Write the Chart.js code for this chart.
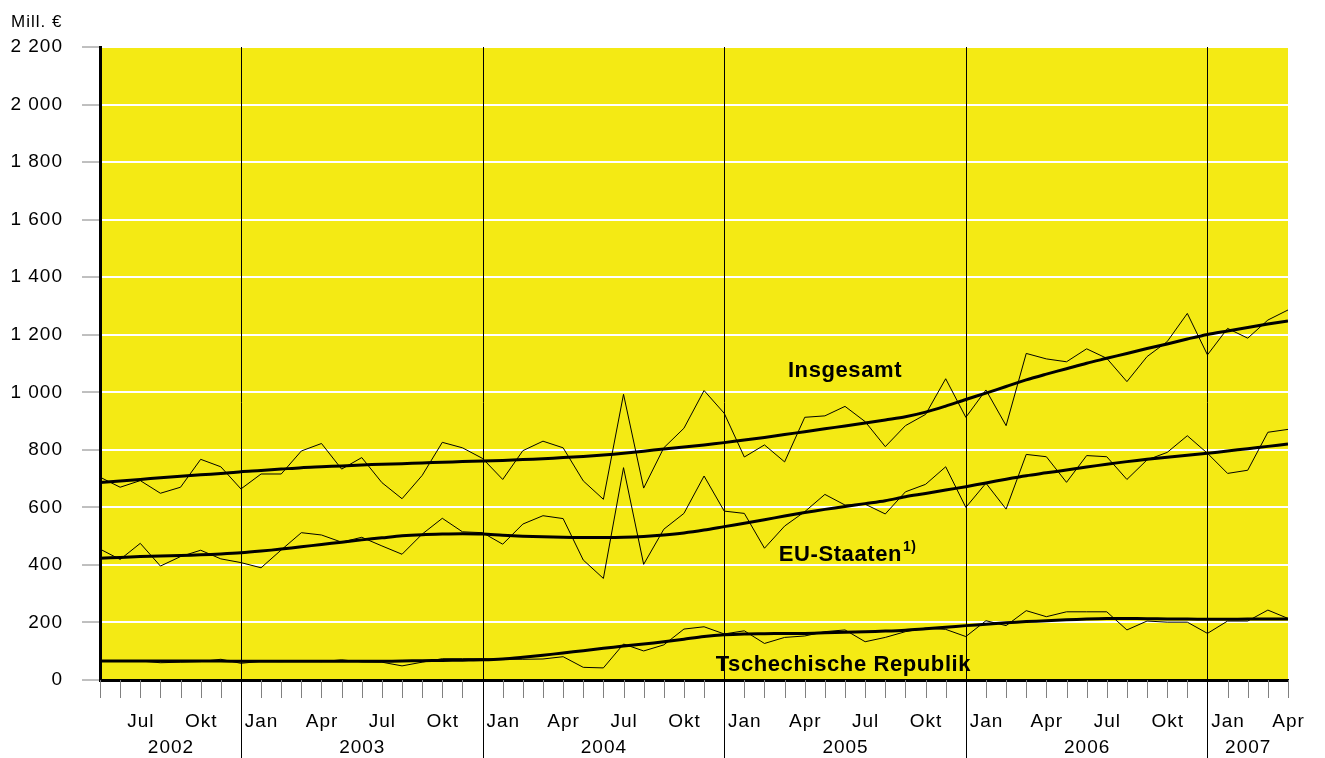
<!DOCTYPE html>
<html><head><meta charset="utf-8">
<script src="https://cdn.jsdelivr.net/npm/chart.js@4"></script>
<style>html,body{margin:0;padding:0;background:#fff;}#wrap{width:1325px;height:758px;}</style>
</head><body><div id="wrap"><canvas id="c" width="1325" height="758"></canvas></div>
<script>
// Months May 2002 .. Apr 2007
const months = ["Mai","Jun","Jul","Aug","Sep","Okt","Nov","Dez",
 "Jan","Feb","Mär","Apr","Mai","Jun","Jul","Aug","Sep","Okt","Nov","Dez",
 "Jan","Feb","Mär","Apr","Mai","Jun","Jul","Aug","Sep","Okt","Nov","Dez",
 "Jan","Feb","Mär","Apr","Mai","Jun","Jul","Aug","Sep","Okt","Nov","Dez",
 "Jan","Feb","Mär","Apr","Mai","Jun","Jul","Aug","Sep","Okt","Nov","Dez",
 "Jan","Feb","Mär","Apr"];
const shownMonthLabels = ["Jan","Apr","Jul","Okt"];
const years = ["2002","2003","2004","2005","2006","2007"];
const yTicks = [0,200,400,600,800,1000,1200,1400,1600,1800,2000,2200];

const insgesamt = [705,670,693,649,670,767,741,664,716,716,796,822,733,773,686,630,711,826,807,770,
 697,797,830,807,692,628,993,667,807,875,1006,927,775,817,758,913,918,951,898,811,
 884,923,1047,913,1008,884,1135,1116,1106,1151,1118,1037,1124,1176,1274,1130,1222,1188,1251,1286];
const insgesamtTrend = [686,692,697,703,708,713,718,724,728,733,738,741,744,747,750,752,754,757,759,761,
 763,766,769,773,777,782,788,795,803,810,817,825,834,843,853,863,873,883,893,904,
 915,931,952,975,997,1020,1043,1063,1082,1101,1118,1135,1152,1168,1185,1201,1213,1225,1237,1248];
const euStaaten = [455,419,475,396,429,451,421,408,390,452,512,504,479,496,466,437,507,562,515,512,
 472,542,571,561,417,353,738,402,524,579,709,587,579,458,535,585,645,608,611,577,
 654,680,741,600,684,594,784,776,687,780,776,697,765,791,849,788,718,729,861,871];
const euTrend = [423,426,429,431,433,435,438,442,448,455,463,471,479,487,494,501,505,507,508,507,
 503,500,498,496,495,495,496,499,504,511,521,533,545,557,570,582,593,603,613,623,
 637,648,660,672,685,698,710,720,730,740,750,759,767,774,781,788,796,804,812,820];
const tschechien = [66,66,66,60,62,64,72,58,65,64,66,64,70,63,62,49,62,74,74,74,
 72,72,73,81,44,42,125,101,122,177,185,160,171,127,148,153,168,174,133,148,
 168,180,176,151,206,189,241,220,237,237,237,174,205,201,201,162,205,205,243,214];
const tschechienTrend = [66,66,66,66,66,66,66,65,65,65,65,65,65,65,65,66,67,68,69,70,
 73,79,86,94,102,110,118,125,133,142,151,157,160,161,162,162,164,166,168,170,
 173,178,183,189,194,199,203,206,209,212,214,214,213,212,212,211,211,212,212,212];

const FONT = '"Liberation Sans", Arial, sans-serif';
const toXY = arr => arr.map((v,i)=>({x:i,y:v}));

const decor = {
  id:'decor',
  beforeDraw(chart){
    const {ctx, chartArea:a} = chart;
    ctx.letterSpacing = '1px';
    ctx.save();
    ctx.fillStyle = '#F4EA14';
    ctx.fillRect(a.left, a.top, a.right-a.left, a.bottom-a.top);
    ctx.restore();
  },
  afterDatasetsDraw(chart){
    const {ctx, chartArea:a, scales:{x,y}} = chart;
    ctx.save();
    // month tick marks
    ctx.strokeStyle = '#808080'; ctx.lineWidth = 1;
    months.forEach((m,i)=>{
      const px = Math.round(x.getPixelForValue(i))+0.5;
      ctx.beginPath(); ctx.moveTo(px, a.bottom); ctx.lineTo(px, a.bottom+18); ctx.stroke();
    });
    // year separators (at December)
    const sep = [];
    months.forEach((m,i)=>{ if(m==='Dez') sep.push(i); });
    ctx.strokeStyle = '#000'; ctx.lineWidth = 1;
    sep.forEach(i=>{
      const px = Math.round(x.getPixelForValue(i))+0.5;
      ctx.beginPath(); ctx.moveTo(px, a.top); ctx.lineTo(px, 758); ctx.stroke();
    });
    // month labels
    ctx.fillStyle = '#000'; ctx.font = '19px '+FONT; ctx.letterSpacing = '1px';
    ctx.textAlign = 'center'; ctx.textBaseline = 'alphabetic';
    months.forEach((m,i)=>{
      if(shownMonthLabels.includes(m)) ctx.fillText(m, x.getPixelForValue(i)+0.5, 727);
    });
    // year labels
    const bounds = [x.getPixelForValue(0)].concat(sep.map(i=>x.getPixelForValue(i)), [x.getPixelForValue(months.length-1)]);
    years.forEach((yr,k)=>{
      ctx.fillText(yr, (bounds[k]+bounds[k+1])/2+0.5, 753);
    });
    // series labels
    ctx.font = 'bold 22px '+FONT; ctx.letterSpacing = '0.6px';
    ctx.fillText('Insgesamt', x.getPixelForValue(37), y.getPixelForValue(1053));
    const ex = x.getPixelForValue(36.77), ey = y.getPixelForValue(414);
    ctx.fillText('EU-Staaten', ex, ey);
    const w = ctx.measureText('EU-Staaten').width;
    ctx.font = 'bold 14px '+FONT; ctx.textAlign='left'; ctx.letterSpacing = '0.5px';
    ctx.fillText('1)', ex + w/2 + 1, ey - 10);
    ctx.font = 'bold 22px '+FONT; ctx.textAlign='center'; ctx.letterSpacing = '0.6px';
    ctx.fillText('Tschechische Republik', x.getPixelForValue(36.92), y.getPixelForValue(31));
    // unit
    ctx.font = '17px '+FONT; ctx.textAlign='left'; ctx.letterSpacing = '1px';
    ctx.fillText('Mill. €', 11, 27);
    ctx.restore();
  }
};

const thin = (d)=>({data:toXY(d), borderColor:'#000', borderWidth:1, pointRadius:0, tension:0, fill:false});
const thick = (d)=>({data:toXY(d), borderColor:'#000', borderWidth:3, pointRadius:0, tension:0.3, fill:false});

new Chart(document.getElementById('c'), {
  type:'line',
  data:{ datasets:[
    Object.assign(thin(insgesamt),{label:'Insgesamt'}),
    Object.assign(thick(insgesamtTrend),{label:'Insgesamt Trend'}),
    Object.assign(thin(euStaaten),{label:'EU-Staaten'}),
    Object.assign(thick(euTrend),{label:'EU-Staaten Trend'}),
    Object.assign(thin(tschechien),{label:'Tschechische Republik'}),
    Object.assign(thick(tschechienTrend),{label:'Tschechische Republik Trend'})
  ]},
  options:{
    responsive:false, animation:false, devicePixelRatio:1,
    layout:{padding:{top:47, right:37, left:0, bottom:0}},
    plugins:{legend:{display:false}, tooltip:{enabled:false}},
    scales:{
      x:{type:'linear', min:0, max:months.length-1,
         ticks:{display:false}, grid:{display:false},
         border:{display:true, color:'#000', width:3},
         afterFit(s){ s.height = 78; }},
      y:{min:0, max:2200,
         afterBuildTicks(s){ s.ticks = yTicks.map(v=>({value:v})); },
         ticks:{padding:19, color:'#000', font:{family:FONT, size:19},
           callback:v=> v>=1000 ? Math.floor(v/1000)+' '+String(v%1000).padStart(3,'0') : String(v)},
         grid:{color:'#fff', lineWidth:2, tickColor:'#808080', tickWidth:1, tickLength:18, drawOnChartArea:true},
         border:{display:true, color:'#000', width:3},
         afterFit(s){ s.width = 100; }}
    }
  },
  plugins:[decor]
});
</script></body></html>
